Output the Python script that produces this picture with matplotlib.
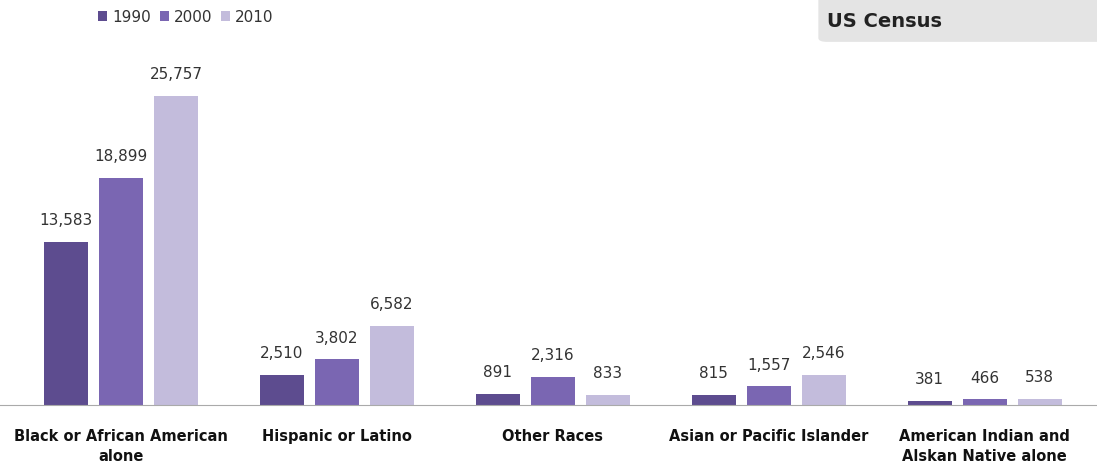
import numpy as np
import matplotlib
matplotlib.use("Agg")
import matplotlib.pyplot as plt
from matplotlib.patches import FancyBboxPatch

# 数据
categories = ["Black or African American\nalone", "Hispanic or Latino", "Other Races",
              "Asian or Pacific Islander", "American Indian and\nAlskan Native alone"]
years = ["1990", "2000", "2010"]
v1990 = [13583, 2510, 891, 815, 381]
v2000 = [18899, 3802, 2316, 1557, 466]
v2010 = [25757, 6582, 833, 2546, 538]
colors = ["#5d4c8f", "#7a66b2", "#c3bcdc"]

fig = plt.figure(figsize=(10.97, 4.76), dpi=100)
ax = fig.add_axes([0, 0.149, 1, 0.851])

x = np.arange(len(categories))
w = 0.205
off = 0.255
for i, (vals, c, yr) in enumerate(zip([v1990, v2000, v2010], colors, years)):
    bars = ax.bar(x + (i - 1) * off, vals, width=w, color=c, label=yr)
    for b, v in zip(bars, vals):
        ax.annotate(f"{v:,}", (b.get_x() + b.get_width() / 2, b.get_height()),
                    xytext=(0, 10), textcoords="offset points", ha="center", va="bottom",
                    fontsize=11, color="#333333")

ax.set_xlim(-0.56, 4.52)
ax.set_ylim(0, 33760)
ax.set_yticks([])
ax.set_xticks(x)
ax.set_xticklabels(categories, fontsize=10.5, fontweight="bold", color="#111111",
                   linespacing=1.45)
ax.tick_params(axis="x", length=0, pad=17)
for s in ["top", "right", "left"]:
    ax.spines[s].set_visible(False)
ax.spines["bottom"].set_color("#aaaaaa")

# 图例
ax.legend(loc="upper left", bbox_to_anchor=(0.077, 1.01), ncol=3, frameon=False,
          fontsize=11, handlelength=0.6, handleheight=0.6, handletextpad=0.3,
          columnspacing=0.6, labelcolor="#333333")

# 右上角标题框
box = FancyBboxPatch((0.746, 0.912), 0.27, 0.1, boxstyle="round,pad=0,rounding_size=0.008",
                     transform=fig.transFigure, facecolor="#e4e4e4", edgecolor="none")
fig.patches.append(box)
fig.text(0.754, 0.955, "US Census", fontsize=14, fontweight="bold", color="#222222",
         va="center", ha="left")

fig.savefig("out.png", dpi=100)
